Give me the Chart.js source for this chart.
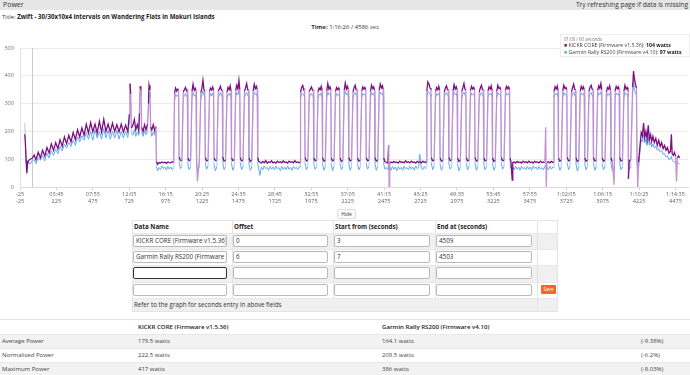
<!DOCTYPE html>
<html><head><meta charset="utf-8">
<script src="https://cdn.jsdelivr.net/npm/chart.js@4.4.1/dist/chart.umd.min.js"></script>
<style>
*{margin:0;padding:0;box-sizing:border-box}
body{width:690px;height:375px;overflow:hidden;background:#fff;font-family:"Open Sans",sans-serif;color:#333;position:relative}
.a{position:absolute;white-space:nowrap}
.inp{position:absolute;height:12px;border:1px solid #b9b9b9;border-radius:2px;background:#fff;font-size:6.3px;line-height:10px;padding-left:2px;overflow:hidden;white-space:nowrap;color:#333}
.th{position:absolute;font-size:6.2px;font-weight:bold;line-height:8px;color:#222}
.st{position:absolute;font-size:6px;line-height:8px;color:#444;white-space:nowrap}
</style></head><body>
<div class="a" style="left:0;top:0;width:690px;height:10px;background:#e6e6e6"></div>
<div class="a" style="left:3px;top:0;font-size:7px;line-height:10px;color:#333">Power</div>
<div class="a" style="right:2px;top:0;font-size:6.6px;line-height:10px;color:#333">Try refreshing page if data is missing</div>
<div class="a" style="left:2px;top:12px;font-size:6.1px;line-height:9px;color:#444">Title: <b style="color:#222">Zwift - 30/30x10x4 intervals on Wandering Flats in Makuri Islands</b></div>
<div class="a" style="left:0;width:690px;text-align:center;top:23px;font-size:6px;line-height:9px;color:#333"><b>Time:</b> 1:16:26 / 4586 <span style="font-size:4.4px">secs</span></div>
<canvas id="c" width="690" height="176" style="position:absolute;left:0;top:30px"></canvas>
<div id="leg" class="a" style="left:560px;top:34px;width:130px;height:23px;background:rgba(255,255,255,0.95);border:1px solid #eee;padding:2px 0 0 3px">
 <div id="legT" style="font-size:4.4px;line-height:5px;color:#777"></div>
 <div style="font-size:5.2px;line-height:7px;color:#444"><span style="color:#7a0f7e">&#9632;</span> KICKR CORE (Firmware v1.5.36): <b id="legK" style="color:#222"></b></div>
 <div style="font-size:5.2px;line-height:7px;color:#444"><span style="color:#5ea8ee">&#9632;</span> Garmin Rally RS200 (Firmware v4.10): <b id="legG" style="color:#222"></b></div>
</div>

<div class="a" style="left:337px;top:209px;width:19px;height:10px;border:1px solid #ddd;border-radius:2px;font-size:4.8px;line-height:8px;text-align:center;background:#fafafa;color:#333">Hide</div>

<div id="tbl"></div>
<div id="stats"></div>

<script>
// ---------- DATA ----------
const markerSec = 60;
const xTickSec = [-25,225,475,725,975,1225,1475,1725,1975,2225,2475,2725,2975,3225,3475,3725,3975,4225,4475];
const xTickTime = ['-25','03:45','07:55','12:05','16:15','20:25','24:35','28:45','32:55','37:05','41:15','45:25','49:35','53:45','57:55','1:02:05','1:06:15','1:10:25','1:14:35'];
const yTickVals = [0,100,200,300,400,500];

const timeSec = [
 8,12,17,22,28,35,45,60,72,85,
 100,115,130,145,160,175,190,205,220,235,
 250,265,280,295,310,325,340,355,370,385,
 400,415,430,445,460,475,490,505,520,535,
 550,565,580,595,610,625,640,655,670,685,
 700,715,726,730,735,740,750,760,770,780,
 790,795,799,805,810,820,830,840,850,857,
 861,867,872,880,890,900,908,912,920,
 930,940,950,960,970,980,990,1000,1010,1020,1030,
 1036,1043,1051,1058,1064,1067,1076,1086,
 1096,1103,1111,1118,1124,1127,1136,1146,
 1156,1163,1171,1178,1184,1187,1193,1206,
 1216,1223,1231,1238,1244,1247,1256,1266,
 1276,1283,1291,1298,1304,1307,1316,1326,
 1336,1343,1351,1358,1364,1367,1376,1386,
 1396,1403,1411,1418,1424,1427,1436,1446,
 1456,1463,1471,1478,1484,1487,1496,1506,
 1516,1523,1531,1538,1544,1547,1556,1566,
 1576,1583,1591,1598,1604,1607,1614,
 1622,1632,1642,1652,1662,1672,1682,1692,1702,1712,
 1722,1732,1742,1752,1762,1772,1782,1792,1802,1812,
 1822,1832,1842,1852,1862,1872,1882,1892,1899,
 1901,1908,1916,1923,1929,1932,1941,1951,
 1961,1968,1976,1983,1989,1992,2001,2011,
 2021,2028,2036,2043,2049,2052,2061,2071,
 2081,2088,2096,2103,2109,2112,2121,2131,
 2141,2148,2156,2163,2169,2172,2181,2191,
 2201,2208,2216,2223,2229,2232,2241,2251,
 2261,2268,2276,2283,2289,2292,2301,2311,
 2321,2328,2336,2343,2349,2352,2361,2371,
 2381,2388,2396,2403,2409,2412,2421,2431,
 2441,2448,2456,2463,2469,2472,2480,
 2490,2500,2506,2509,2513,2522,2532,2542,2552,2562,
 2572,2582,2592,2602,2612,2622,2632,2642,2652,2662,
 2672,2682,2692,2702,2712,2720,2730,2740,2750,2760,2766,
 2768,2775,2783,2790,2796,2799,2808,2818,
 2828,2835,2843,2850,2856,2859,2868,2878,
 2888,2895,2903,2910,2916,2919,2928,2938,
 2948,2955,2963,2970,2976,2979,2988,2998,
 3008,3015,3023,3030,3036,3039,3048,3058,
 3068,3075,3083,3090,3096,3099,3108,3118,
 3128,3135,3143,3150,3156,3159,3168,3178,
 3188,3195,3203,3210,3216,3219,3228,3238,
 3248,3255,3263,3270,3276,3279,3288,3298,
 3308,3315,3323,3330,3336,3339,3346,
 3354,3358,3368,3378,3388,3398,3408,3418,3428,3438,
 3448,3458,3468,3478,3488,3498,3508,3518,3528,3538,
 3548,3558,3568,3578,3584,3588,3593,3603,3613,3623,3633,3639,
 3641,3648,3656,3663,3669,3672,3681,3691,
 3701,3708,3716,3723,3729,3732,3741,3751,
 3761,3768,3776,3783,3789,3792,3801,3811,
 3821,3828,3836,3843,3849,3852,3861,3871,
 3881,3888,3896,3903,3909,3912,3921,3931,
 3941,3948,3956,3963,3969,3972,3981,3991,
 4001,4008,4016,4023,4029,4032,4041,4054,
 4061,4068,4076,4083,4089,4092,4101,4111,
 4121,4128,4136,4143,4149,4152,4158,4168,
 4181,4187,4193,4200,4207,4211,4216,4222,
 4230,4240,4248,4256,4264,4272,4280,4288,4296,4304,
 4312,4320,4330,4340,4350,4360,4370,4380,4390,4400,
 4410,4420,4430,4440,4447,4452,4460,4468,4476,4482,4488,4496,4503
];

const kickrWatts = [
 190,160,95,50,88,96,100,104,115,98,
 125,105,132,112,142,122,155,132,160,138,
 170,146,180,156,186,162,196,170,206,180,
 212,186,226,194,232,198,226,194,236,198,
 244,200,226,198,230,200,224,198,226,198,
 222,200,262,372,335,212,222,243,206,224,
 204,265,362,352,214,200,224,205,226,300,
 366,348,216,205,224,202,218,92,82,
 88,86,90,87,89,85,90,88,87,91,88,
 338,356,345,352,348,108,96,94,
 342,350,358,346,352,104,95,98,
 345,370,348,355,346,110,20,95,
 340,352,384,350,345,106,94,97,
 344,356,349,360,348,104,96,95,
 346,352,362,348,350,108,93,96,
 340,358,350,364,346,105,95,98,
 348,366,352,384,350,106,94,97,
 344,356,372,350,352,104,92,96,
 346,370,354,362,350,106,92,
 90,86,92,87,95,86,91,88,94,87,
 90,86,93,88,91,87,94,88,90,86,
 93,89,91,87,95,88,90,87,90,
 340,358,365,350,354,106,94,96,
 344,352,360,348,350,104,95,97,
 342,356,350,362,348,106,93,96,
 346,372,352,360,350,104,94,98,
 344,358,350,356,348,105,92,96,
 348,374,352,362,350,106,94,97,
 342,356,366,350,352,104,93,96,
 346,360,352,358,350,105,95,97,
 344,366,354,360,348,106,93,96,
 348,370,356,364,350,104,92,
 88,86,150,2,86,90,87,92,88,90,
 86,93,88,90,87,94,88,91,87,93,
 88,90,86,92,89,90,87,93,88,91,88,
 346,378,370,356,352,106,94,97,
 344,358,350,362,348,104,93,96,
 342,356,364,350,352,106,95,98,
 346,368,352,360,350,104,92,96,
 344,356,372,352,348,105,94,97,
 348,362,352,358,350,106,93,96,
 342,356,366,350,352,104,94,97,
 346,360,352,364,348,105,92,96,
 344,366,354,358,350,106,95,97,
 348,362,354,360,350,104,90,
 25,88,90,86,92,88,90,86,93,88,
 91,87,93,88,90,86,92,89,90,87,
 93,88,90,87,215,0,88,91,87,92,88,90,
 344,360,352,364,348,104,93,96,
 346,366,354,358,350,106,94,97,
 342,356,370,352,348,105,92,96,
 346,362,352,360,350,104,93,97,
 344,358,366,352,350,106,94,96,
 348,364,354,372,350,104,93,97,
 342,358,352,364,348,105,92,8,
 346,362,354,360,350,106,94,96,
 344,366,352,358,350,30,96,97,
 360,417,392,370,356,110,0,90,
 140,196,184,230,178,200,172,222,170,188,
 164,182,160,175,150,168,146,160,138,150,
 132,142,122,128,190,120,114,124,110,20,106,112,104
];

const garminWatts = [
 230,150,88,78,84,90,82,97,98,84,
 106,96,114,94,122,104,130,114,136,120,
 146,130,154,140,160,146,168,150,180,162,
 184,168,196,172,200,168,206,176,200,172,
 210,176,204,172,200,176,204,172,200,176,
 202,178,240,330,300,196,186,208,182,198,
 186,250,338,326,199,182,204,188,198,285,
 340,322,204,182,198,186,202,72,58,
 70,62,76,66,72,60,74,64,72,62,70,
 312,334,326,330,322,90,66,74,
 318,330,336,325,330,84,62,72,
 320,340,328,332,318,88,60,72,
 315,332,345,330,322,86,64,75,
 320,336,328,338,320,82,58,72,
 322,330,340,328,324,86,63,74,
 316,334,330,338,320,84,60,73,
 324,340,332,344,326,88,62,74,
 320,334,340,330,326,84,60,72,
 322,342,332,336,324,86,64,
 42,72,62,76,66,70,60,74,64,72,
 61,75,65,70,58,74,63,72,62,76,
 64,70,60,74,66,71,62,73,70,
 318,336,338,330,326,86,62,74,
 320,332,336,328,324,80,64,72,
 318,334,330,338,322,84,60,72,
 322,342,332,336,326,82,58,74,
 320,336,330,334,324,84,62,72,
 322,344,332,338,326,86,60,74,
 318,334,340,330,326,82,62,72,
 322,336,332,334,324,84,64,74,
 320,340,332,336,324,86,60,72,
 324,342,334,338,326,82,64,
 70,62,80,66,72,60,74,64,72,58,
 74,64,71,60,75,65,70,62,74,64,
 72,60,76,66,72,118,68,62,74,66,70,
 322,344,340,334,326,86,62,74,
 320,336,330,338,324,82,60,72,
 318,334,340,330,326,84,64,74,
 322,342,332,336,324,82,58,72,
 320,334,342,330,324,84,62,74,
 324,338,332,334,326,86,60,72,
 318,334,340,330,324,82,62,74,
 322,336,332,338,324,84,60,72,
 320,340,332,334,326,86,64,74,
 324,338,332,336,326,82,66,
 64,72,62,74,64,72,60,75,65,71,
 62,74,64,72,60,76,66,72,62,74,
 64,70,61,74,80,66,72,62,75,64,72,68,
 320,336,332,338,324,82,60,72,
 322,340,332,334,326,86,62,74,
 318,334,342,330,324,84,58,72,
 322,338,332,336,326,82,62,74,
 320,336,340,330,324,86,60,72,
 324,338,332,342,326,82,62,74,
 318,336,330,338,324,84,60,66,
 322,338,332,336,326,86,62,72,
 320,340,332,334,324,84,62,74,
 334,386,350,340,330,90,70,72,
 120,170,162,190,158,172,150,180,150,160,
 144,155,140,148,132,138,126,130,118,120,
 108,112,98,102,110,96,92,90,86,84,88,86,82
];

const deviceNames = ['KICKR CORE (Firmware v1.5.36)', 'Garmin Rally RS200 (Firmware v4.10)'];
const offsetVals = ['0','6'];
const startVals = ['3','7'];
const endVals = ['4509','4503'];
const statLabels = ['Average Power','Normalised Power','Maximum Power'];
const kickrStats = ['179.5 watts','222.5 watts','417 watts'];
const garminStats = ['164.1 watts','209.5 watts','386 watts'];
const diffStats = ['(-9.38%)','(-6.2%)','(-8.03%)'];

// ---------- CHART ----------
const kDark = '#7d1080', kLight = 'rgba(196,140,206,0.95)';
const gDark = '#62aaee', gLight = 'rgba(160,205,245,0.95)';

function pts(vals){ return timeSec.map((t,i)=>({x:t,y:vals[i]})); }
function segCol(dark, light){ return ctx => Math.abs(ctx.p1.y - ctx.p0.y) > 20 ? light : dark; }

const markerPlugin = {
  id:'marker',
  beforeDatasetsDraw(chart){
    const {ctx, chartArea:a, scales:{x}} = chart;
    const px = Math.round(x.getPixelForValue(markerSec)) + 0.5;
    ctx.save(); ctx.strokeStyle = '#cccccc'; ctx.lineWidth = 1;
    ctx.beginPath(); ctx.moveTo(px, a.top); ctx.lineTo(px, a.bottom); ctx.stroke(); ctx.restore();
  }
};

new Chart(document.getElementById('c'), {
  type:'line',
  data:{ datasets:[
    { label:deviceNames[0], data:pts(kickrWatts), borderColor:kDark, borderWidth:1.3, pointRadius:0, tension:0,
      segment:{ borderColor: segCol(kDark,kLight) } },
    { label:deviceNames[1], data:pts(garminWatts), borderColor:gDark, borderWidth:1, pointRadius:0, tension:0,
      segment:{ borderColor: segCol(gDark,gLight) } }
  ]},
  options:{
    responsive:false, animation:false, devicePixelRatio:1,
    layout:{ padding:{ top:18, right:2, left:0, bottom:0 } },
    plugins:{ legend:{display:false}, tooltip:{enabled:false} },
    scales:{
      x:{ type:'linear', min:-25, max:4561,
          afterBuildTicks: s => { s.ticks = xTickSec.map(v=>({value:v})); },
          afterFit: s => { s.height = 19; },
          ticks:{ autoSkip:false, maxRotation:0, padding:1, color:'#666',
                  font:{family:'Open Sans', size:5.6, lineHeight:1.25},
                  callback:(v,i)=> [xTickTime[i], String(xTickSec[i])] },
          grid:{ drawOnChartArea:false, tickLength:3, color:'#cfcfcf' },
          border:{ color:'#dcdcdc' } },
      y:{ min:0, max:500,
          afterBuildTicks: s => { s.ticks = yTickVals.map(v=>({value:v})); },
          afterFit: s => { s.width = 20; },
          ticks:{ padding:6, color:'#777', font:{family:'Open Sans', size:5.6} },
          grid:{ color:'#ececec', drawTicks:false },
          border:{ color:'#dde4ec' } }
    }
  },
  plugins:[markerPlugin]
});

// legend box
const mi = timeSec.indexOf(markerSec);
document.getElementById('legT').textContent = '01:00 / ' + markerSec + ' seconds';
document.getElementById('legK').textContent = kickrWatts[mi] + ' watts';
document.getElementById('legG').textContent = garminWatts[mi] + ' watts';

// ---------- INPUT TABLE ----------
const colX = [132,232,333,435,537,558];
const rowY = [220,233,249,265,282,298,312];
let h = '';
for (let r=1;r<6;r++){ if (r%2===1) h += `<div class="a" style="left:${colX[0]}px;top:${rowY[r]}px;width:${colX[5]-colX[0]}px;height:${rowY[r+1]-rowY[r]}px;background:#f0f0f0"></div>`; }
h += `<div class="a" style="left:${colX[0]}px;top:${rowY[0]}px;width:${colX[5]-colX[0]}px;height:${rowY[6]-rowY[0]}px;border:1px solid #e4e4e4"></div>`;
for (let c=1;c<5;c++) h += `<div class="a" style="left:${colX[c]}px;top:${rowY[0]}px;width:1px;height:${rowY[5]-rowY[0]}px;background:#e4e4e4"></div>`;
h += `<div class="a" style="left:${colX[4]}px;top:${rowY[5]}px;width:1px;height:${rowY[6]-rowY[5]}px;background:#e4e4e4"></div>`;
for (let r=1;r<6;r++) h += `<div class="a" style="left:${colX[0]}px;top:${rowY[r]}px;width:${colX[5]-colX[0]}px;height:1px;background:#e8e8e8"></div>`;
const heads = ['Data Name','Offset','Start from (seconds)','End at (seconds)'];
heads.forEach((t,c)=>{ h += `<div class="th" style="left:${colX[c]+2}px;top:${rowY[0]+3}px">${t}</div>`; });
const cellVals = [
  [deviceNames[0], offsetVals[0], startVals[0], endVals[0]],
  [deviceNames[1], offsetVals[1], startVals[1], endVals[1]],
  ['','','',''], ['','','','']
];
cellVals.forEach((row,r)=>{
  row.forEach((v,c)=>{
    const w = colX[c+1]-colX[c]-6;
    const focus = (r===2 && c===0) ? 'border:1.5px solid #333;' : '';
    h += `<div class="inp" style="left:${colX[c]+1}px;top:${rowY[r+1]+2}px;width:${w}px;${focus}">${v}</div>`;
  });
});
h += `<div class="a" style="left:541px;top:285px;width:15px;height:9px;background:#f26a21;border-radius:1px;color:#fff;font-size:4.6px;line-height:9px;text-align:center">Save</div>`;
h += `<div class="a" style="left:${colX[0]+2}px;top:${rowY[5]+3}px;font-size:6.2px;line-height:8px;color:#333">Refer to the graph for seconds entry in above fields</div>`;
document.getElementById('tbl').innerHTML = h;

// ---------- STATS TABLE ----------
let s = `<div class="a" style="left:0;top:319px;width:690px;height:1px;background:#e6e6e6"></div>`;
s += `<div class="st" style="left:138px;top:323px;color:#222;font-weight:600;font-size:6.1px">${deviceNames[0]}</div>`;
s += `<div class="st" style="left:382px;top:323px;color:#222;font-weight:600;font-size:6.1px">${deviceNames[1]}</div>`;
statLabels.forEach((lab,i)=>{
  const top = 334 + i*14;
  if (i%2===0) s += `<div class="a" style="left:0;top:${top}px;width:690px;height:14px;background:#f2f2f2"></div>`;
  s += `<div class="a" style="left:0;top:${top}px;width:690px;height:1px;background:#e8e8e8"></div>`;
  s += `<div class="st" style="left:2px;top:${top+3}px">${lab}</div>`;
  s += `<div class="st" style="left:138px;top:${top+3}px">${kickrStats[i]}</div>`;
  s += `<div class="st" style="left:382px;top:${top+3}px">${garminStats[i]}</div>`;
  s += `<div class="st" style="left:641px;top:${top+3}px">${diffStats[i]}</div>`;
});
document.getElementById('stats').innerHTML = s;
</script>
</body></html>
